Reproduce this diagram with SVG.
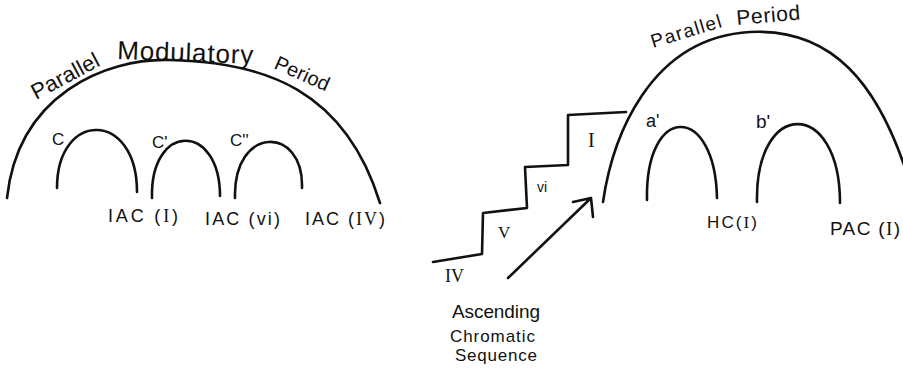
<svg xmlns="http://www.w3.org/2000/svg" width="903" height="372" viewBox="0 0 903 372">
<style>
.ln{fill:none;stroke:#111;stroke-width:2.6;stroke-linecap:round;stroke-linejoin:round}
.t{font-family:"Liberation Sans",Arial,sans-serif;fill:#111}
.r{font-family:"Liberation Serif","Times New Roman",serif;fill:#111}
</style>
<rect width="903" height="372" fill="#fff"/>
<g id="left-period">
<path class="ln" d="M7,198 C18,95 105,58 170,60 C265,62 345,90 380,203"/>
<text class="t" font-size="22" transform="translate(36,100) rotate(-28)" textLength="74" lengthAdjust="spacing">Parallel</text>
<text class="t" font-size="26" transform="translate(117,59) rotate(2)" textLength="136" lengthAdjust="spacing">Modulatory</text>
<text class="t" font-size="20" transform="translate(273,68) rotate(24)" textLength="58" lengthAdjust="spacing">Period</text>
</g>
<g id="arch-c">
<path class="ln" d="M57,188 C57,110 137,110 137,192"/>
<text class="t" font-size="17" x="52" y="145">C</text>
<text class="t" font-size="18" x="108" y="222" textLength="70" lengthAdjust="spacing">IAC (<tspan class="r">I</tspan>)</text>
</g>
<g id="arch-c1">
<path class="ln" d="M152,198 C150,122 220,122 220,196"/>
<text class="t" font-size="17" x="152" y="148">C'</text>
<text class="t" font-size="18" x="205" y="225" textLength="75" lengthAdjust="spacing">IAC (vi)</text>
</g>
<g id="arch-c2">
<path class="ln" d="M235,198 C233,125 304,125 302,188"/>
<text class="t" font-size="17" x="230" y="146">C''</text>
<text class="t" font-size="18" x="305" y="225" textLength="80" lengthAdjust="spacing">IAC (<tspan class="r">IV</tspan>)</text>
</g>
<g id="stairs">
<path class="ln" d="M433,262 L482,254 L483,213 L527,208 L525,167 L568,165 L568,115 L626,112"/>
<text class="r" font-size="18" x="445" y="282">IV</text>
<text class="r" font-size="17" x="498" y="238">V</text>
<text class="t" font-size="14" x="537" y="192">vi</text>
<text class="r" font-size="20" x="588" y="147">I</text>
</g>
<g id="connectors">
<path class="ln" d="M508,278 L591,198 M573,202 L591,198 L593,217"/>
</g>
<g id="sequence-label">
<text class="t" font-size="19" x="452" y="318" textLength="88" lengthAdjust="spacing">Ascending</text>
<text class="t" font-size="17" x="450" y="342" textLength="85" lengthAdjust="spacing">Chromatic</text>
<text class="t" font-size="17" x="455" y="361" textLength="82" lengthAdjust="spacing">Sequence</text>
</g>
<g id="right-period">
<path class="ln" d="M603,202 C612,140 648,38 750,32 C830,28 880,80 912,190"/>
<text class="t" font-size="19" transform="translate(653,48) rotate(-17)" textLength="73" lengthAdjust="spacing">Parallel</text>
<text class="t" font-size="21" transform="translate(737,25) rotate(-5)" textLength="64" lengthAdjust="spacing">Period</text>
</g>
<g id="arch-a1">
<path class="ln" d="M647,200 C645,103 715,103 717,198"/>
<text class="t" font-size="18" x="646" y="127">a'</text>
<text class="t" font-size="17" x="707" y="228" textLength="50" lengthAdjust="spacing">HC(<tspan class="r">I</tspan>)</text>
</g>
<g id="arch-b1">
<path class="ln" d="M757,202 C755,98 840,98 840,203"/>
<text class="t" font-size="19" x="756" y="128">b'</text>
<text class="t" font-size="19" x="830" y="235" textLength="70" lengthAdjust="spacing">PAC (<tspan class="r">I</tspan>)</text>
</g>
</svg>
